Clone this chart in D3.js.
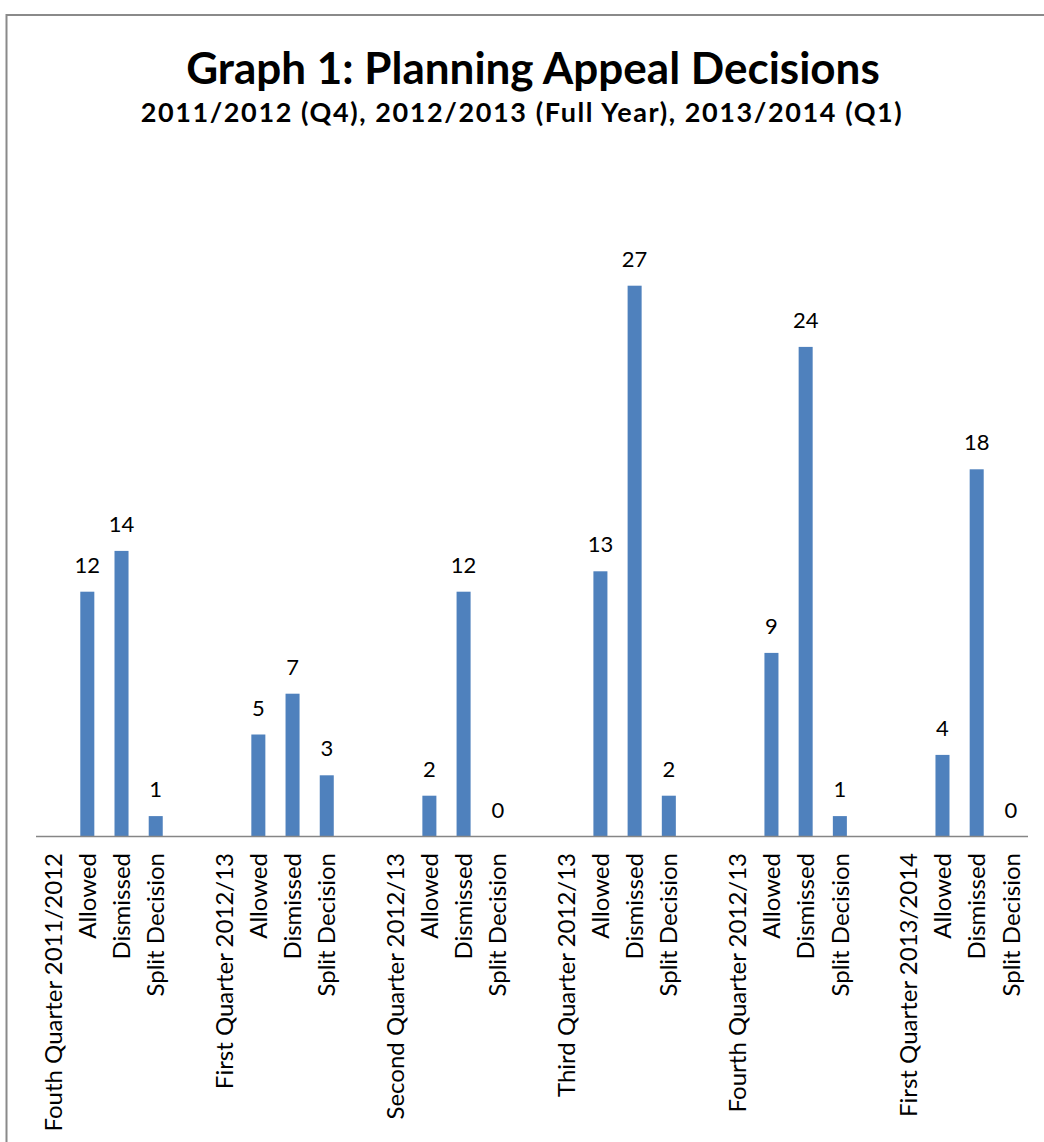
<!DOCTYPE html>
<html>
<head>
<meta charset="utf-8">
<script src="https://cdnjs.cloudflare.com/ajax/libs/d3/7.8.5/d3.min.js"></script>
<style>
  html, body { margin: 0; padding: 0; background: #fff; }
  svg { display: block; }
</style>
</head>
<body>
<svg id="chart" width="1044" height="1142"></svg>
<script>
// ---- data ----
const quarters = [
  "Fouth Quarter 2011/2012",
  "First Quarter 2012/13",
  "Second Quarter 2012/13",
  "Third Quarter 2012/13",
  "Fourth Quarter 2012/13",
  "First Quarter 2013/2014"
];
const decisionTypes = ["Allowed", "Dismissed", "Split Decision"];
const allowed   = [12, 5, 2, 13, 9, 4];
const dismissed = [14, 7, 12, 27, 24, 18];
const split     = [1, 3, 0, 2, 1, 0];
const title = "Graph 1: Planning Appeal Decisions";
const subtitle = "2011/2012 (Q4), 2012/2013 (Full Year), 2013/2014 (Q1)";

// ---- build category slots (quarter label, 3 decisions, spacer) ----
const slots = [];
quarters.forEach((q, i) => {
  slots.push({ key: "q" + i, label: q, value: null });
  const vals = [allowed[i], dismissed[i], split[i]];
  decisionTypes.forEach((d, j) => {
    slots.push({ key: "q" + i + "-" + j, label: d, value: vals[j] });
  });
  if (i < quarters.length - 1) slots.push({ key: "gap" + i, label: "", value: null });
});

const svg = d3.select("#chart");
const font = "Lato, 'Open Sans', sans-serif";

// border
svg.append("rect")
  .attr("x", 6.5).attr("y", 15)
  .attr("width", 1200).attr("height", 1300)
  .attr("fill", "none").attr("stroke", "#8a8a8a").attr("stroke-width", 2);

// titles
svg.append("text")
  .attr("x", 533).attr("y", 84)
  .attr("text-anchor", "middle")
  .style("font-family", font).style("font-weight", "bold")
  .style("font-size", "44px").attr("fill", "#000")
  .text(title);
svg.append("text")
  .attr("x", 522).attr("y", 122)
  .attr("text-anchor", "middle")
  .style("font-family", font).style("font-weight", "bold")
  .style("font-size", "27px").style("letter-spacing", "1.6px").attr("fill", "#000")
  .text(subtitle);

// scales
const x = d3.scaleBand().domain(slots.map(s => s.key)).range([36, 1028]).padding(0);
const y = d3.scaleLinear().domain([0, 30]).range([836.5, 224.5]);
const barW = x.bandwidth() * 0.41;

const bars = slots.filter(s => s.value !== null);

svg.append("g").selectAll("rect").data(bars).join("rect")
  .attr("x", d => x(d.key) + (x.bandwidth() - barW) / 2)
  .attr("y", d => y(d.value))
  .attr("width", barW)
  .attr("height", d => y(0) - y(d.value))
  .attr("fill", "#4f81bd");

// value labels
svg.append("g").selectAll("text").data(bars).join("text")
  .attr("x", d => x(d.key) + x.bandwidth() / 2)
  .attr("y", d => y(d.value) - 19)
  .attr("text-anchor", "middle")
  .style("font-family", font).style("font-size", "22px")
  .attr("fill", "#000")
  .text(d => d.value);

// x axis
const xAxis = d3.axisBottom(x).tickSize(0).tickFormat(k => slots.find(s => s.key === k).label);
const gx = svg.append("g").attr("transform", `translate(0,${y(0)})`).call(xAxis);
gx.select(".domain").attr("stroke", "#868686").attr("stroke-width", 1.6).attr("d", `M36,0H1028`);
gx.selectAll(".tick text")
  .attr("transform", "rotate(-90)")
  .attr("x", -16.5).attr("y", 0).attr("dy", "0.36em")
  .attr("text-anchor", "end")
  .style("font-family", font).style("font-size", "24px")
  .attr("fill", "#000");
</script>
</body>
</html>
